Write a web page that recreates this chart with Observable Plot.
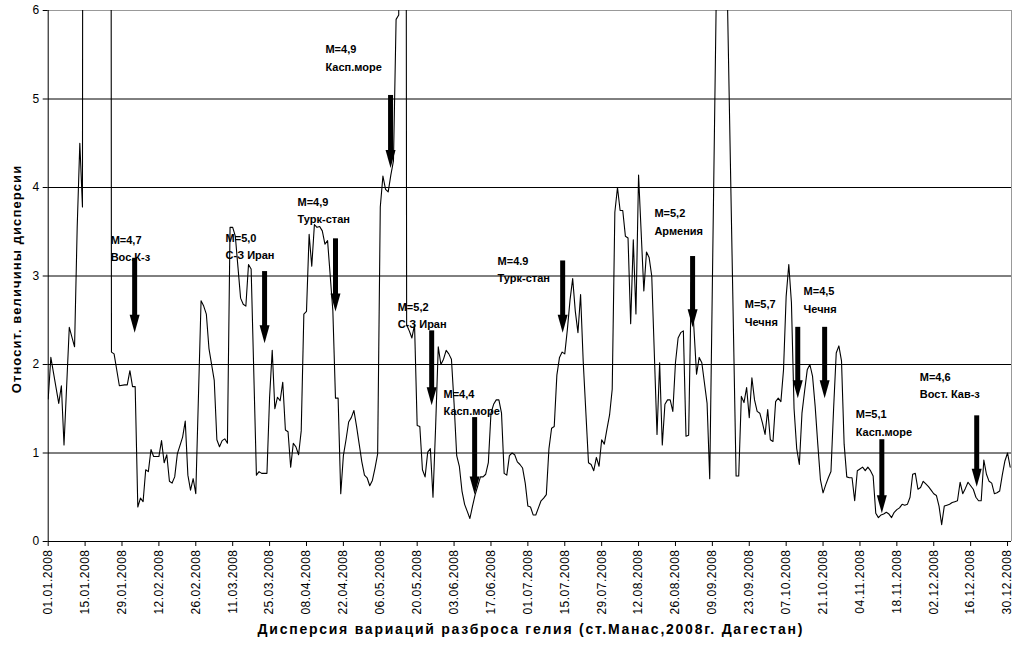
<!DOCTYPE html>
<html><head><meta charset="utf-8">
<script src="https://cdn.jsdelivr.net/npm/d3@7"></script>
<script src="https://cdn.jsdelivr.net/npm/@observablehq/plot@0.6"></script>
<style>body{margin:0;background:#fff}</style>
</head><body><div id="chart"></div>
<script>
// [day of 2008 (0 = 01.01.2008), relative dispersion value]
const helium = [
 [0,1.61],[1,2.08],[4,1.56],[5,1.76],[6,1.09],[8,2.42],[10,2.2],[11,3.55],[12,4.5],[13,3.78],
 [14,40],[23,40],[24,2.14],[25,2.12],[27,1.76],[29,1.77],[30,1.77],[31,1.93],[32,1.75],[33,1.75],
 [34,0.39],[35,0.49],[36,0.45],[37,0.81],[38,0.79],[39,1.04],[40,0.96],[42,0.96],[43,1.14],[44,0.89],
 [45,0.98],[46,0.68],[47,0.66],[48,0.73],[49,0.99],[51,1.18],[52,1.36],[53,0.75],[54,0.58],[55,0.71],
 [56,0.54],[58,2.72],[59,2.66],[60,2.57],[61,2.18],[63,1.82],[64,1.15],[65,1.07],[66,1.14],[67,1.16],
 [68,1.11],[69,3.55],[70,3.55],[71,3.45],[72,3.1],[73,2.75],[74,2.68],[75,2.66],[76,3.13],[77,3.08],
 [79,0.75],[80,0.79],[81,0.77],[83,0.77],[84,1.63],[85,2.16],[86,1.5],[87,1.63],[88,1.59],[89,1.8],
 [90,1.26],[91,1.24],[92,0.84],[93,1.11],[94,1.07],[95,0.98],[96,1.25],[97,2.57],[98,2.6],[99,3.47],
 [100,3.11],[101,3.58],[102,3.55],[103,3.56],[104,3.51],[105,3.36],[106,3.4],[108,2.61],[109,1.62],[110,1.62],
 [111,0.54],[112,0.97],[113,1.15],[114,1.35],[115,1.4],[116,1.48],[117,1.3],[118,1.1],[119,0.9],[120,0.75],
 [121,0.72],[122,0.63],[123,0.69],[124,0.83],[125,0.99],[126,3.78],[127,4.13],[128,3.98],[129,3.95],[130,4.14],
 [131,4.3],[132,5.9],[133,5.95],[134,30],[135,30],[136,2.45],[137,2.38],[138,2.3],[139,2.45],[140,1.31],
 [141,1.3],[142,0.81],[143,0.73],[144,1.01],[145,1.05],[146,0.5],[147,1.3],[148,2.2],[149,2.0],[150,2.06],
 [151,2.16],[152,2.12],[153,2.06],[154,1.56],[155,0.97],[156,0.85],[157,0.57],[158,0.42],[159,0.34],[160,0.26],
 [161,0.4],[162,0.53],[163,0.63],[164,0.73],[165,0.73],[166,0.76],[167,0.89],[168,1.45],[169,1.55],[170,1.6],
 [171,1.6],[172,1.45],[173,0.77],[174,0.75],[175,0.97],[176,1.0],[177,0.98],[178,0.9],[179,0.87],[180,0.83],
 [181,0.66],[182,0.4],[183,0.39],[184,0.3],[185,0.3],[186,0.38],[187,0.46],[188,0.49],[189,0.53],[190,1.05],
 [191,1.28],[192,1.3],[193,1.88],[194,2.08],[195,2.14],[196,2.12],[197,2.4],[198,2.73],[199,2.97],[200,2.6],
 [201,2.36],[202,2.79],[203,2.03],[205,0.89],[206,0.87],[207,0.8],[208,0.95],[209,0.85],[210,1.15],[211,1.1],
 [212,1.27],[213,1.43],[214,1.72],[215,3.72],[216,4.0],[217,3.74],[218,3.74],[219,3.45],[220,3.43],[221,2.46],
 [222,3.41],[223,2.57],[224,4.14],[226,2.83],[227,3.27],[228,3.21],[229,3.0],[231,1.21],[232,2.02],[233,1.09],
 [234,1.55],[235,1.6],[236,1.6],[237,1.47],[238,2.02],[239,2.3],[240,2.36],[241,2.38],[242,1.19],[243,1.2],
 [244,2.93],[246,1.89],[247,2.08],[248,2.02],[250,1.56],[251,0.71],[254,7.3],[257,7.3],[261,0.74],[262,0.74],
 [263,1.64],[264,1.57],[265,1.74],[266,1.4],[267,1.85],[268,1.6],[269,1.47],[270,1.45],[271,1.34],[272,1.21],
 [273,1.49],[274,1.15],[275,1.13],[276,1.58],[277,1.62],[278,1.58],[279,1.94],[280,2.77],[281,3.13],[282,2.7],
 [283,1.5],[284,1.05],[285,0.87],[286,1.45],[287,1.7],[288,1.94],[289,2.0],[290,1.87],[291,1.53],[292,1.1],
 [293,0.7],[294,0.55],[295,0.64],[296,0.72],[297,0.79],[298,1.5],[299,2.13],[300,2.21],[301,2.04],[302,1.1],
 [303,0.73],[304,0.72],[305,0.72],[306,0.46],[307,0.8],[308,0.82],[309,0.84],[310,0.8],[311,0.84],[312,0.8],
 [313,0.74],[314,0.32],[315,0.27],[316,0.3],[317,0.31],[318,0.33],[319,0.31],[320,0.27],[321,0.33],[322,0.36],
 [323,0.38],[324,0.42],[325,0.41],[326,0.42],[327,0.5],[328,0.76],[329,0.77],[330,0.59],[331,0.61],[332,0.68],
 [333,0.65],[334,0.62],[335,0.58],[336,0.54],[337,0.52],[338,0.4],[339,0.19],[340,0.4],[341,0.41],[342,0.42],
 [343,0.44],[344,0.45],[345,0.46],[346,0.67],[347,0.54],[348,0.6],[349,0.67],[350,0.63],[351,0.59],[352,0.5],
 [353,0.46],[354,0.46],[355,0.92],[356,0.76],[357,0.68],[358,0.66],[359,0.54],[360,0.55],[361,0.57],[362,0.75],
 [363,0.91],[364,1.0],[365,0.84]
];

const tickLabels = ["01.01.2008","15.01.2008","29.01.2008","12.02.2008","26.02.2008","11.03.2008","25.03.2008",
 "08.04.2008","22.04.2008","06.05.2008","20.05.2008","03.06.2008","17.06.2008","01.07.2008","15.07.2008",
 "29.07.2008","12.08.2008","26.08.2008","09.09.2008","23.09.2008","07.10.2008","21.10.2008","04.11.2008",
 "18.11.2008","02.12.2008","16.12.2008","30.12.2008"];
const yTicks = [0,1,2,3,4,5,6];
const gridLevels = [1,2,3,4,5];
const yTitle = "Относит. величины дисперсии";
const xTitle = "Дисперсия вариаций разброса гелия (ст.Манас,2008г. Дагестан)";

// Earthquake annotations
const quakeMag    = ["M=4,7","M=5,0","M=4,9","M=4,9","M=5,2","M=4,4","M=4.9","M=5,2","M=5,7","M=4,5","M=5,1","M=4,6"];
const quakePlace  = ["Вос.К-з","С-З Иран","Турк-стан","Касп.море","С-З Иран","Касп.море","Турк-стан","Армения","Чечня","Чечня","Касп.море","Вост. Кав-з"];
const labelDay    = [23.7,67.3,94.6,105.2,132.6,150,170.5,230,264.3,286.6,306.4,330.7];
const labelValue  = [3.33,3.35,3.76,5.48,2.57,1.59,3.09,3.63,2.6,2.75,1.36,1.78];
const arrowDay    = [32.8,82.1,109,129.9,145.5,161.8,195.2,244.5,284.4,294.6,316.3,352.3];
const arrowTop    = [3.2,3.05,3.42,5.04,2.38,1.4,3.17,3.22,2.42,2.42,1.15,1.42];
const arrowTip    = [2.36,2.24,2.6,4.22,1.54,0.53,2.36,2.42,1.62,1.62,0.32,0.62];

const DAY = 86400000;
const t0 = Date.UTC(2008, 0, 1);
const toDate = d => new Date(t0 + d * DAY);
const parseLabel = s => { const [dd, mm, yy] = s.split(".").map(Number); return new Date(Date.UTC(yy, mm - 1, dd)); };

const series = helium.map(([d, v]) => ({date: toDate(d), value: v}));
const tickDates = tickLabels.map(parseLabel);
const labelByTime = new Map(tickDates.map((d, i) => [+d, tickLabels[i]]));
const quakes = quakeMag.map((m, i) => ({
  text: m + "\n" + quakePlace[i],
  tx: toDate(labelDay[i]), ty: labelValue[i],
  ax: toDate(arrowDay[i]), top: arrowTop[i], tip: arrowTip[i]
}));
const xStart = toDate(0), xEnd = toDate(365.5);

const headSymbol = {
  draw(ctx) { ctx.moveTo(-5, -18); ctx.lineTo(5, -18); ctx.lineTo(0, 0); ctx.closePath(); }
};

const chart = Plot.plot({
  width: 1020, height: 659,
  marginLeft: 47.7, marginRight: 9, marginTop: 10, marginBottom: 118,
  style: {fontFamily: "'Liberation Sans', Arial, sans-serif", background: "#fff", color: "#000"},
  x: {type: "utc", domain: [xStart, xEnd]},
  y: {domain: [0, 6]},
  marks: [
    Plot.ruleY(gridLevels, {stroke: "#000", strokeWidth: 1}),
    Plot.ruleY([6], {stroke: "#999", strokeWidth: 1}),
    Plot.ruleX([xEnd], {stroke: "#999", strokeWidth: 1}),
    Plot.line(series, {x: "date", y: "value", stroke: "#000", strokeWidth: 1.1, clip: true}),
    Plot.ruleX([xStart], {stroke: "#000", strokeWidth: 1}),
    Plot.ruleY([0], {stroke: "#000", strokeWidth: 1}),
    Plot.axisY({ticks: yTicks, tickSize: 5, tickPadding: 4, fontSize: 12, label: null, tickFormat: d => String(d)}),
    Plot.axisX({ticks: tickDates, tickSize: 5, tickPadding: 3, tickRotate: -90, fontSize: 12,
      tickFormat: d => labelByTime.get(+d), label: null}),
    Plot.text([yTitle], {frameAnchor: "left", rotate: -90, dx: -31, dy: 3,
      textAnchor: "middle", fontWeight: "bold", fontSize: 13}),
    Plot.text([xTitle], {frameAnchor: "bottom", dy: 92, dx: 1, fontWeight: "bold", fontSize: 14}),
    Plot.ruleX(quakes, {x: "ax", y1: "top", y2: "tip", stroke: "#000", strokeWidth: 5, insetBottom: 12}),
    Plot.dot(quakes, {x: "ax", y: "tip", symbol: headSymbol, fill: "#000", stroke: "none"}),
    Plot.text(quakes, {x: "tx", y: "ty", text: "text", textAnchor: "start", lineAnchor: "middle",
      lineHeight: 1.6, fontSize: 11, fontWeight: "bold"})
  ]
});
const svg = d3.select(chart);
svg.selectAll('[aria-label="x-axis tick label"]').attr("letter-spacing", "0.5px");
svg.selectAll("text").filter(function () { return this.textContent === yTitle; }).attr("letter-spacing", "1.1px");
svg.selectAll("text").filter(function () { return this.textContent === xTitle; }).attr("letter-spacing", "1.75px");
document.getElementById("chart").append(chart);
</script>
</body></html>
